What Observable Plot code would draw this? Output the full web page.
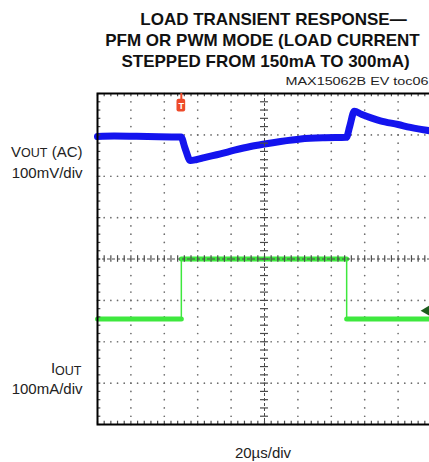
<!DOCTYPE html>
<html><head><meta charset="utf-8">
<script src="https://cdn.jsdelivr.net/npm/d3@7"></script>
<script src="https://cdn.jsdelivr.net/npm/@observablehq/plot@0.6"></script>
<style>
body{margin:0;background:#fff;overflow:hidden}
#chart svg{display:block;overflow:visible;max-width:none}
</style>
</head><body><div id="chart"></div>
<script>
// ---- text content ----
const titleLine1 = "LOAD TRANSIENT RESPONSE\u2014";
const titleLine2 = "PFM OR PWM MODE (LOAD CURRENT";
const titleLine3 = "STEPPED FROM 150mA TO 300mA)";
const noteLabel = "MAX15062B EV toc06";
const xScaleLabel = "20\u00b5s/div";
const voutName = "VOUT (AC)";
const voutScale = "100mV/div";
const ioutName = "IOUT";
const ioutScale = "100mA/div";

// ---- data (x in divisions of 20 µs, y in divisions from screen centre) ----
const voutT = [0, 0.5, 1.5, 2.5, 2.62, 2.78, 2.95, 3.2, 3.68, 4.1, 4.58, 5.0, 5.48, 6.08, 6.8, 7.45, 7.55, 7.69, 7.9, 8.47, 9.0, 9.37, 9.94];
const voutV = [2.96, 2.97, 2.96, 2.95, 2.68, 2.38, 2.40, 2.45, 2.54, 2.63, 2.72, 2.78, 2.84, 2.90, 2.93, 2.94, 3.20, 3.57, 3.50, 3.34, 3.25, 3.18, 3.10];
const ioutT = [0, 2.51, 2.51, 7.46, 7.46, 9.94];
const ioutV = [-1.45, -1.45, 0, 0, -1.45, -1.45];
const trigTime = [2.51];
const ch2Ground = [-1.25];

// ---- screen grid (10 x 8 divisions, 5 minor per division) ----
const majorX = [1, 2, 3, 4, 6, 7, 8, 9];
const majorY = [-3, -2, -1, 1, 2, 3];
const minorX = d3.range(0, 51).map(i => i / 5);
const minorY = d3.range(0, 41).map(i => i / 5 - 4);

const vout = voutT.map((t, i) => ({t, v: voutV[i]}));
const iout = ioutT.map((t, i) => ({t, v: ioutV[i]}));
const ioutFlat = [];
for (let i = 0; i < iout.length - 1; i++) {
  if (iout[i].v === iout[i + 1].v) ioutFlat.push({...iout[i], seg: i}, {...iout[i + 1], seg: i});
}
const gridDots = [];
for (const x of majorX) for (const y of minorY) gridDots.push({x, y});
for (const y of majorY) for (const x of minorX) gridDots.push({x, y});

const FONT = "Liberation Sans, Arial, sans-serif";
const BLUE = "#1414ee";
const GREEN = "#3ee83e";
const GRID = "#6d6d6d";
const AXIS = "#4a4a4a";

const chart = Plot.plot({
  width: 429, height: 462,
  marginLeft: 97, marginRight: -2, marginTop: 93, marginBottom: 38,
  style: {fontFamily: FONT, color: "#1a1a1a", background: "#fff"},
  x: {domain: [0, 10], axis: null},
  y: {domain: [-4, 4], axis: null},
  marks: [
    Plot.dot(gridDots, {x: "x", y: "y", r: 0.85, fill: GRID, stroke: null}),
    Plot.line(iout, {x: "t", y: "v", stroke: GREEN, strokeWidth: 1.5}),
    Plot.line(ioutFlat, {x: "t", y: "v", z: "seg", stroke: GREEN, strokeWidth: 5}),
    Plot.line(vout, {x: "t", y: "v", stroke: BLUE, strokeWidth: 7, curve: "monotone-x"}),
    // centre crosshair
    Plot.ruleX([5], {stroke: AXIS, strokeWidth: 1, strokeDasharray: "3 2"}),
    Plot.ruleY([0], {stroke: AXIS, strokeWidth: 1, strokeDasharray: "3 2"}),
    Plot.ruleY(minorY, {y: d => d, x1: 4.88, x2: 5.12, stroke: AXIS, strokeWidth: 1.2}),
    Plot.ruleX(minorX, {x: d => d, y1: -0.08, y2: 0.08, stroke: AXIS, strokeWidth: 1.2}),
    // border ticks
    Plot.ruleX(minorX, {x: d => d, y1: -4, y2: -3.92, stroke: AXIS, strokeWidth: 1.2}),
    Plot.ruleX(minorX, {x: d => d, y1: 3.92, y2: 4, stroke: AXIS, strokeWidth: 1.2}),
    Plot.ruleY(minorY, {y: d => d, x1: 0, x2: 0.1, stroke: AXIS, strokeWidth: 1.2}),
    Plot.frame({stroke: "#000", strokeWidth: 2}),
    // trigger marker
    Plot.ruleX(trigTime, {x: d => d, y1: 3.82, y2: 4, stroke: "#ee4a2a", strokeWidth: 2}),
    Plot.rect(trigTime, {x1: d => d - 0.13, x2: d => d + 0.13, y1: 3.55, y2: 3.86, fill: "#ee4a2a", rx: 2}),
    Plot.text(trigTime, {x: d => d, y: 3.705, text: () => "T", fill: "#fff", fontSize: 9, fontWeight: "bold"}),
    // channel 2 ground marker
    Plot.dot(ch2Ground, {x: 9.86, y: d => d, symbol: "triangle", rotate: -90, r: 4, fill: "#1d5c1d", stroke: null}),
    // titles and labels
    Plot.text([titleLine1], {frameAnchor: "top-left", dx: 176, dy: -69, lineAnchor: "bottom", textAnchor: "middle", fontSize: 17, fontWeight: "bold", fill: "#111"}),
    Plot.text([titleLine2], {frameAnchor: "top-left", dx: 165, dy: -48, lineAnchor: "bottom", textAnchor: "middle", fontSize: 17, fontWeight: "bold", fill: "#111"}),
    Plot.text([titleLine3], {frameAnchor: "top-left", dx: 168, dy: -27, lineAnchor: "bottom", textAnchor: "middle", fontSize: 17, fontWeight: "bold", fill: "#111"}),
    Plot.text([noteLabel], {frameAnchor: "top-left", dx: 331, dy: -9, lineAnchor: "bottom", textAnchor: "end", fontSize: 10, fill: "#222"}),
    Plot.text([voutName], {frameAnchor: "top-left", dx: -15, dy: 63, lineAnchor: "bottom", textAnchor: "end", fontSize: 15, fill: "#222"}),
    Plot.text([voutScale], {frameAnchor: "top-left", dx: -15, dy: 84, lineAnchor: "bottom", textAnchor: "end", fontSize: 15, fill: "#222"}),
    Plot.text([ioutName], {frameAnchor: "top-left", dx: -16, dy: 279, lineAnchor: "bottom", textAnchor: "end", fontSize: 15, fill: "#222"}),
    Plot.text([ioutScale], {frameAnchor: "top-left", dx: -15, dy: 300, lineAnchor: "bottom", textAnchor: "end", fontSize: 15, fill: "#222"}),
    Plot.text([xScaleLabel], {frameAnchor: "bottom", dx: -1.5, dy: 33, lineAnchor: "bottom", textAnchor: "middle", fontSize: 15, fill: "#222"})
  ]
});
document.getElementById("chart").appendChild(chart);

// rich text: small "OUT" subscripts, stretched note
d3.select(chart).selectAll("text").each(function() {
  const el = d3.select(this);
  const s = this.textContent;
  if (s === voutName || s === ioutName) {
    const sub = s === ioutName;
    const rest = s.slice(4);
    el.text(null);
    el.append("tspan").text(s[0]);
    el.append("tspan").attr("font-size", 12.5).attr("dy", sub ? 2.5 : null).text("OUT");
    if (rest) el.append("tspan").attr("dy", sub ? -2.5 : null).text(rest);
  } else if (s === noteLabel) {
    el.attr("textLength", 143).attr("lengthAdjust", "spacingAndGlyphs");
  }
});
</script>
</body></html>
